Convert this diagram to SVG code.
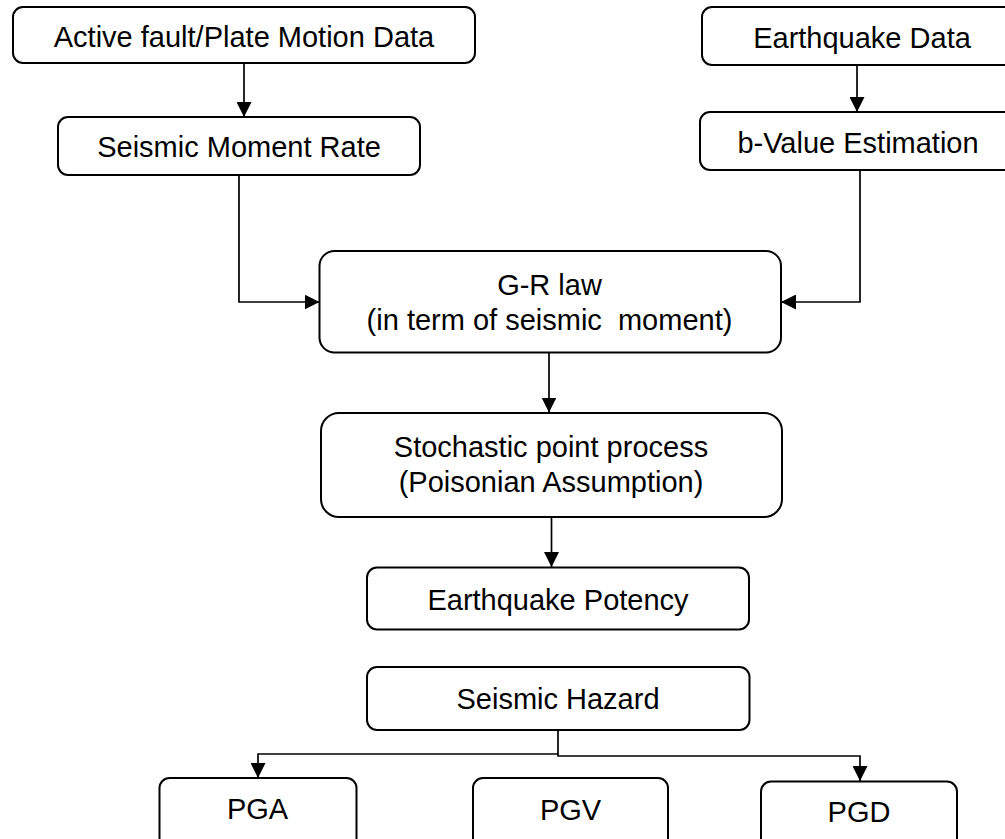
<svg xmlns="http://www.w3.org/2000/svg" width="1005" height="839" viewBox="0 0 1005 839">
<style>
.box{fill:#fff;stroke:#000;stroke-width:2}
.t{font-family:"Liberation Sans",Arial,sans-serif;font-size:29px;fill:#000;text-anchor:middle;white-space:pre}
.c{fill:none;stroke:#000;stroke-width:1.7}
</style>
<defs>
<marker id="ah" viewBox="0 0 15 15" refX="15" refY="7.5" markerWidth="15" markerHeight="15" markerUnits="userSpaceOnUse" orient="auto">
<path d="M0,0 L15,7.5 L0,15 z" fill="#000"/>
</marker>
</defs>
<rect width="1005" height="839" fill="#fff"/>
<g id="connectors">
<path class="c" d="M244,63 V117" marker-end="url(#ah)"/>
<path class="c" d="M857,65 V112" marker-end="url(#ah)"/>
<path class="c" d="M239,175 V302 H319.5" marker-end="url(#ah)"/>
<path class="c" d="M860,170 V302 H781" marker-end="url(#ah)"/>
<path class="c" d="M549,353 V412.5" marker-end="url(#ah)"/>
<path class="c" d="M551.5,517 V567" marker-end="url(#ah)"/>
<path class="c" d="M558,730 V754 H258 V778" marker-end="url(#ah)"/>
<path class="c" d="M558,754 V756 H860 V781" marker-end="url(#ah)"/>
</g>
<g id="n1"><rect class="box" x="13" y="7" width="462" height="56" rx="10"/><text class="t" x="244" y="46.5">Active fault/Plate Motion Data</text></g>
<g id="n2"><rect class="box" x="58" y="117" width="362" height="58" rx="10"/><text class="t" x="239" y="156.7">Seismic Moment Rate</text></g>
<g id="n3"><rect class="box" x="702" y="7" width="320" height="58" rx="10"/><text class="t" x="862" y="48.3">Earthquake Data</text></g>
<g id="n4"><rect class="box" x="700" y="112" width="322" height="58" rx="10"/><text class="t" x="858" y="152.7">b-Value Estimation</text></g>
<g id="n5"><rect class="box" x="319.5" y="251" width="461.5" height="101.5" rx="15"/><text class="t" x="549.5" y="295">G-R law</text><text class="t" x="549.5" y="330">(in term of seismic  moment)</text></g>
<g id="n6"><rect class="box" x="321" y="413" width="461" height="104" rx="18"/><text class="t" x="551" y="456.7">Stochastic point process</text><text class="t" x="551" y="491.7">(Poisonian Assumption)</text></g>
<g id="n7"><rect class="box" x="367" y="567.5" width="382" height="62" rx="10"/><text class="t" x="558" y="610">Earthquake Potency</text></g>
<g id="n8"><rect class="box" x="367" y="667" width="382.5" height="63" rx="10"/><text class="t" x="558" y="709">Seismic Hazard</text></g>
<g id="n9"><rect class="box" x="159.5" y="778" width="197" height="70" rx="10"/><text class="t" x="257.5" y="819">PGA</text></g>
<g id="n10"><rect class="box" x="473" y="778" width="195" height="70" rx="10"/><text class="t" x="570.5" y="820">PGV</text></g>
<g id="n11"><rect class="box" x="761" y="781.5" width="196" height="70" rx="10"/><text class="t" x="859" y="822.3">PGD</text></g>
</svg>
